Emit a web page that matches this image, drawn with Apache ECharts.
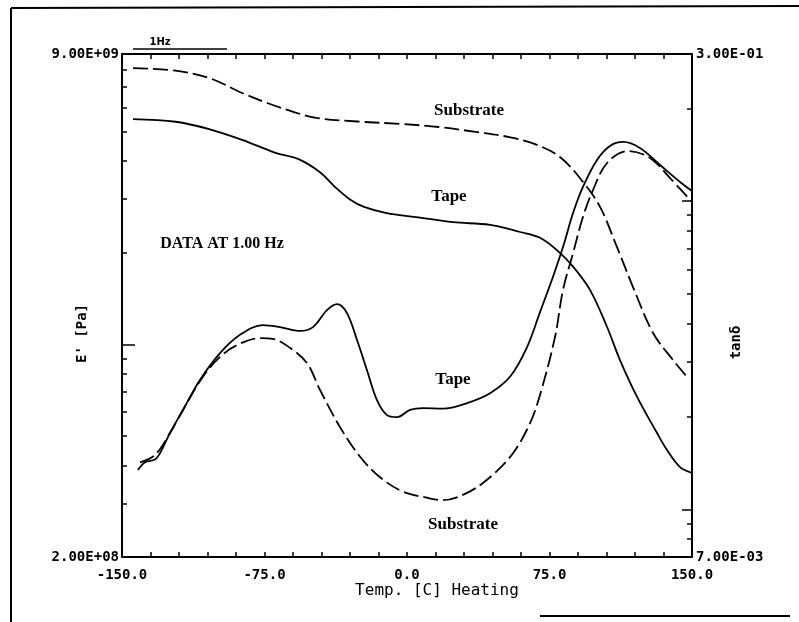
<!DOCTYPE html>
<html><head><meta charset="utf-8">
<script src="https://cdn.jsdelivr.net/npm/echarts@6/dist/echarts.min.js"></script>
<style>html,body{margin:0;padding:0;background:#fff}#c{width:799px;height:622px}</style>
</head><body><div id="c"></div>
<script>
// ---- tick labels ----
const tempTicks = [-150, -75, 0, 75, 150];
const xLabels = ['-150.0', '-75.0', '0.0', '75.0', '150.0'];
const modRange = [2e8, 9e9];
const modLabels = ['2.00E+08', '9.00E+09'];
const tanRange = [7e-3, 3e-1];
const tanLabels = ['7.00E-03', '3.00E-01'];
const minorMultipliers = [2, 3, 4, 5, 6, 7, 8, 9];

// ---- E' (storage modulus, Pa) ----
const eSubT = [-144.2,-121.8,-104.2,-86.8,-73.2,-59.5,-47.9,-26.3,-2.9,16.6,36.1,53.7,67.4,80.5,92.6,101.6,110.5,119,129.5,140,147.9];
const eSubV = [8.09e9,7.93e9,7.51e9,6.70e9,6.20e9,5.80e9,5.55e9,5.40e9,5.30e9,5.18e9,4.99e9,4.80e9,4.55e9,4.13e9,3.42e9,2.83e9,2.09e9,1.54e9,1.09e9,8.88e8,7.75e8];
const eTapeT = [-144.2,-121.8,-104.2,-86.8,-69.2,-57.4,-45.8,-37.9,-30.2,-22.6,-10.7,4.7,24.2,43.7,59.5,70,78.9,87.4,96.3,105.3,112.1,121.1,131.6,136.8,143.7,150];
const eTapeV = [5.50e9,5.39e9,5.10e9,4.70e9,4.26e9,4.07e9,3.68e9,3.29e9,3.00e9,2.83e9,2.70e9,2.62e9,2.52e9,2.47e9,2.34e9,2.24e9,2.04e9,1.80e9,1.51e9,1.14e9,8.88e8,6.72e8,5.11e8,4.50e8,3.95e8,3.78e8];

// ---- tan delta ----
const tTapeT = [-141.6,-137.9,-132.6,-130,-124.7,-117.9,-108.9,-98.4,-87.9,-75.8,-66.8,-56.3,-49.5,-42.1,-36.8,-31.6,-26.3,-21.1,-15.8,-10.5,-5.3,1.6,8.4,18.9,31.6,43.7,54.2,63.2,70,76.8,82.1,87.4,92.6,100,106.8,113.7,122.6,133.2,143.7,150];
const tTapeV = [0.0134,0.0142,0.0145,0.0152,0.0177,0.0210,0.0263,0.0321,0.0368,0.0396,0.0390,0.0379,0.0390,0.0443,0.0463,0.0433,0.0354,0.0283,0.0226,0.0202,0.0199,0.0210,0.0213,0.0212,0.0221,0.0238,0.0269,0.0336,0.0436,0.0567,0.0709,0.0914,0.1111,0.1359,0.1509,0.1555,0.1487,0.1309,0.1153,0.1078];
const tSubT = [-140.5,-132.6,-124.7,-117.9,-107.4,-98.4,-89.5,-77.4,-70.5,-61.6,-52.6,-45.8,-35.3,-24.7,-14.2,-2.1,10.5,18.9,31.6,43.7,55.8,64.7,70,77.9,82.1,87.4,92.6,97.9,105.3,116.3,127.9,138.4,150];
const tSubV = [0.0142,0.0150,0.0177,0.0210,0.0269,0.0312,0.0341,0.0359,0.0357,0.0334,0.0298,0.0244,0.0185,0.0148,0.0127,0.0114,0.0109,0.0107,0.0113,0.0127,0.0152,0.0190,0.0235,0.0362,0.0515,0.0678,0.0888,0.1086,0.1329,0.1453,0.1380,0.1188,0.0993];

const zip = (a, b) => a.map((t, i) => [t, b[i]]);
const monoFont = 'DejaVu Sans Mono';
const BLACK = '#000';

function endLabel(range, labels) {
  return function (v) {
    const lv = Math.log10(v);
    if (Math.abs(lv - Math.log10(range[0])) < 0.01) return labels[0];
    if (Math.abs(lv - Math.log10(range[1])) < 0.01) return labels[1];
    return '';
  };
}
const labelStyle = { color: BLACK, fontFamily: monoFont, fontWeight: 'bold', fontSize: 14 };

const xAxisBase = {
  type: 'value', min: -150, max: 150, interval: 75,
  axisLine: { onZero: false, lineStyle: { color: BLACK, width: 2 } },
  axisTick: { inside: true, length: 5, lineStyle: { color: BLACK, width: 1.5 } },
  minorTick: { show: true, splitNumber: 5, length: 5, lineStyle: { color: BLACK, width: 1.5 } },
  splitLine: { show: false }, minorSplitLine: { show: false }
};

const yAxes = [
  {
    type: 'log', logBase: 10, min: modRange[0], max: modRange[1], position: 'left',
    axisLine: { show: true, onZero: false, lineStyle: { color: BLACK, width: 2 } },
    axisTick: { show: true, inside: true, length: 13, lineStyle: { color: BLACK, width: 1.5 } },
    axisLabel: Object.assign({ margin: 3, showMinLabel: true, showMaxLabel: true, hideOverlap: false, formatter: endLabel(modRange, modLabels) }, labelStyle),
    splitLine: { show: false },
    name: "E' [Pa]", nameLocation: 'middle', nameRotate: 90, nameGap: 33, nameMoveOverlap: false,
    nameTextStyle: { color: BLACK, fontFamily: monoFont, fontWeight: 'bold', fontSize: 14, padding: [0, 56, 0, 0] }
  },
  {
    type: 'log', logBase: 10, min: tanRange[0], max: tanRange[1], position: 'right',
    axisLine: { show: true, onZero: false, lineStyle: { color: BLACK, width: 2 } },
    axisTick: { show: true, inside: true, length: 10, lineStyle: { color: BLACK, width: 1.5 } },
    axisLabel: Object.assign({ margin: 4, showMinLabel: true, showMaxLabel: true, hideOverlap: false, formatter: endLabel(tanRange, tanLabels) }, labelStyle),
    splitLine: { show: false },
    name: 'tanδ', nameLocation: 'middle', nameRotate: 90, nameGap: 37, nameMoveOverlap: false,
    nameTextStyle: { color: BLACK, fontFamily: monoFont, fontWeight: 'bold', fontSize: 14, padding: [0, 74, 0, 0] }
  }
];
// minor log ticks (2..9 x 10^k) via overlaid tick-only axes
minorMultipliers.forEach(m => {
  [[modRange, 'left'], [tanRange, 'right']].forEach(([r, pos]) => {
    yAxes.push({
      type: 'log', logBase: 10, min: r[0] / m, max: r[1] / m, position: pos,
      axisLine: { show: false, onZero: false }, axisLabel: { show: false }, splitLine: { show: false },
      axisTick: { show: true, inside: true, length: 5, lineStyle: { color: BLACK, width: 1.5 } }
    });
  });
});

const lineStyleSolid = { color: BLACK, width: 1.8, type: 'solid' };
const lineStyleDash = { color: BLACK, width: 1.8, type: [15, 5] };
const mkSeries = (name, data, yi, ls) => ({
  name, type: 'line', data, yAxisIndex: yi, showSymbol: false, symbol: 'none',
  smooth: 0.35, lineStyle: ls, silent: true, animation: false
});

const serifText = (text, x, y, size) => ({
  type: 'text', x, y,
  style: { text, fill: BLACK, font: 'bold ' + size + 'px "Liberation Serif", "Times New Roman", serif', align: 'center', verticalAlign: 'middle' }
});

const chart = echarts.init(document.getElementById('c'), null, { renderer: 'canvas' });
chart.setOption({
  animation: false,
  backgroundColor: '#fff',
  grid: { left: 122, right: 107, top: 54, bottom: 65, containLabel: false },
  xAxis: [
    Object.assign({}, xAxisBase, {
      position: 'bottom',
      axisLabel: Object.assign({ margin: 11, showMinLabel: true, showMaxLabel: true, hideOverlap: false,
        formatter: v => { const i = tempTicks.findIndex(t => Math.abs(t - v) < 1e-6); return i >= 0 ? xLabels[i] : ''; } }, labelStyle),
      name: 'Temp. [C] Heating', nameLocation: 'middle', nameGap: 26, nameMoveOverlap: false,
      nameTextStyle: { color: BLACK, fontFamily: monoFont, fontSize: 16, padding: [0, 0, 0, 60] }
    }),
    Object.assign({}, xAxisBase, { position: 'top', axisLabel: { show: false } })
  ],
  yAxis: yAxes,
  series: [
    mkSeries("E' Substrate", zip(eSubT, eSubV), 0, lineStyleDash),
    mkSeries("E' Tape", zip(eTapeT, eTapeV), 0, lineStyleSolid),
    mkSeries('tanδ Tape', zip(tTapeT, tTapeV), 1, lineStyleSolid),
    mkSeries('tanδ Substrate', zip(tSubT, tSubV), 1, lineStyleDash)
  ],
  graphic: [
    { type: 'line', shape: { x1: 11, y1: 8, x2: 11, y2: 622 }, style: { stroke: BLACK, lineWidth: 2 } },
    { type: 'line', shape: { x1: 11, y1: 8, x2: 799, y2: 6 }, style: { stroke: BLACK, lineWidth: 2 } },
    { type: 'line', shape: { x1: 540, y1: 616, x2: 790, y2: 616 }, style: { stroke: BLACK, lineWidth: 2 } },
    { type: 'line', shape: { x1: 133, y1: 49, x2: 227, y2: 49 }, style: { stroke: BLACK, lineWidth: 1.5 } },
    { type: 'text', x: 160, y: 42, style: { text: '1Hz', fill: BLACK, font: 'bold 10px "DejaVu Sans"', align: 'center', verticalAlign: 'middle' } },
    serifText('Substrate', 469, 111, 17),
    serifText('Tape', 449, 197, 17),
    serifText('DATA AT 1.00 Hz', 222, 244, 16),
    serifText('Tape', 453, 380, 17),
    serifText('Substrate', 463, 525, 17)
  ]
});
</script>
</body></html>
